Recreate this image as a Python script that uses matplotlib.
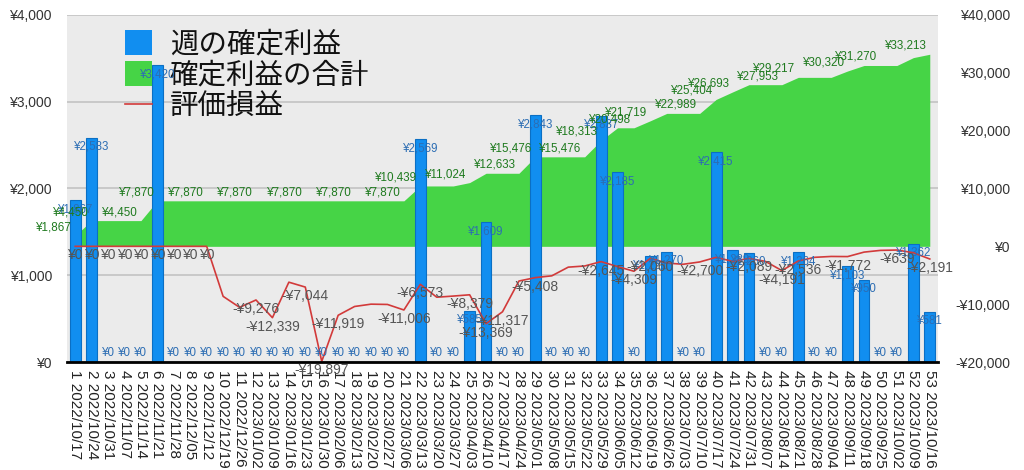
import matplotlib
matplotlib.use("Agg")
import matplotlib.pyplot as plt
from matplotlib.patches import Patch
from matplotlib.lines import Line2D

plt.rcParams['font.family'] = ['Liberation Sans', 'Noto Sans CJK JP', 'DejaVu Sans']

weeks = list(range(1, 54))
dates = ["2022/10/17", "2022/10/24", "2022/10/31", "2022/11/07", "2022/11/14", "2022/11/21",
         "2022/11/28", "2022/12/05", "2022/12/12", "2022/12/19", "2022/12/26", "2023/01/02",
         "2023/01/09", "2023/01/16", "2023/01/23", "2023/01/30", "2023/02/06", "2023/02/13",
         "2023/02/20", "2023/02/27", "2023/03/06", "2023/03/13", "2023/03/20", "2023/03/27",
         "2023/04/03", "2023/04/10", "2023/04/17", "2023/04/24", "2023/05/01", "2023/05/08",
         "2023/05/15", "2023/05/22", "2023/05/29", "2023/06/05", "2023/06/12", "2023/06/19",
         "2023/06/26", "2023/07/03", "2023/07/10", "2023/07/17", "2023/07/24", "2023/07/31",
         "2023/08/07", "2023/08/14", "2023/08/21", "2023/08/28", "2023/09/04", "2023/09/11",
         "2023/09/18", "2023/09/25", "2023/10/02", "2023/10/09", "2023/10/16"]

weekly_profit = [1867, 2583, 0, 0, 0, 3420, 0, 0, 0, 0, 0, 0, 0, 0, 0, 0, 0, 0, 0, 0, 0,
                 2569, 0, 0, 585, 1609, 0, 0, 2843, 0, 0, 0, 2837, 2185, 0, 1221, 1270, 0, 0,
                 2415, 1289, 1260, 0, 0, 1264, 0, 0, 1103, 950, 0, 0, 1362, 581]

cumulative = [1867, 4450, 4450, 4450, 4450, 7870, 7870, 7870, 7870, 7870, 7870, 7870, 7870,
              7870, 7870, 7870, 7870, 7870, 7870, 7870, 7870, 10439, 10439, 10439, 11024,
              12633, 12633, 12633, 15476, 15476, 15476, 15476, 18313, 20498, 20498, 21719,
              22989, 22989, 22989, 25404, 26693, 27953, 27953, 27953, 29217, 29217, 29217,
              30320, 31270, 31270, 31270, 32632, 33213]

unrealized = [0, 0, 0, 0, 0, 0, 0, 0, 0, -8650, -10550, -9276, -12339, -6200, -7044, -19897,
              -11919, -10400, -10000, -10050, -11006, -6573, -8800, -8600, -8379, -13369,
              -11317, -6000, -5408, -5100, -3600, -3400, -2645, -3500, -4309, -2060, -2900,
              -3100, -2700, -1900, -2600, -2089, -2600, -4191, -2536, -1900, -1750, -1772,
              -1000, -700, -639, -1100, -2191]

green_label_weeks = [1, 2, 5, 6, 9, 12, 15, 18, 21, 22, 25, 28, 29, 32, 33, 35, 36, 39, 40,
                     41, 44, 45, 48, 50, 53]
red_label_weeks = [1, 2, 3, 4, 5, 6, 7, 8, 9, 12, 13, 15, 16, 17, 21, 22, 25, 26, 27, 29, 33,
                   35, 36, 39, 42, 44, 45, 48, 51, 53]

series_names = ["週の確定利益", "確定利益の合計", "評価損益"]

BAR = '#118ef0'
BAR_EDGE = '#0b6fc4'
GREEN = '#46d446'
RED = '#d23a3a'
BLUE_TXT = '#2c6db3'
GREEN_TXT = '#1f7a1f'
GRAY_TXT = '#555555'


def yen(v):
    return f"-¥{abs(v):,}" if v < 0 else f"¥{v:,}"


fig = plt.figure(figsize=(10.24, 4.70), dpi=100)
rect = [67 / 1024, 108 / 470, 871 / 1024, 347 / 470]
ax = fig.add_axes(rect)
ax.set_facecolor('#ebebeb')
ax2 = ax.twinx()
ax3 = ax.twinx()
ax4 = ax.twinx()

for a in (ax, ax2, ax3, ax4):
    for s in a.spines.values():
        s.set_visible(False)

# left axis
ax.set_xlim(0.5, 53.5)
ax.set_ylim(0, 4000)
ax.set_yticks([0, 1000, 2000, 3000, 4000])
ax.set_yticklabels([yen(v) for v in [0, 1000, 2000, 3000, 4000]], fontsize=10, color='#333333')
ax.tick_params(axis='y', length=0, pad=10.8)
ax.yaxis.grid(True, color='#c6c6c6', lw=1.3)
ax.set_axisbelow(True)
ax.set_xticks(weeks)
ax.set_xticklabels([f"{w} {d}" for w, d in zip(weeks, dates)], rotation=-90,
                   fontsize=11, color='#222222', va='top', ha='center')
ax.tick_params(axis='x', length=0, pad=6)

# right axis: cumulative area
rticks = [-20000, -10000, 0, 10000, 20000, 30000, 40000]
ax2.set_ylim(-20000, 40000)
ax2.set_yticks(rticks)
ax2.set_yticklabels([yen(v) for v in rticks], fontsize=10, color='#333333', ha='right')
ax2.tick_params(axis='y', length=0, pad=51.8)
ax2.fill_between(weeks, 0, cumulative, color=GREEN, lw=0)

# bars
ax3.set_ylim(0, 4000)
ax3.yaxis.set_visible(False)
ax3.bar(weeks, weekly_profit, width=0.66, color=BAR, edgecolor=BAR_EDGE, lw=0.8)

# line
ax4.set_ylim(-20000, 40000)
ax4.yaxis.set_visible(False)
ax4.plot(weeks, unrealized, color=RED, lw=1.2)
ax4.spines['bottom'].set_visible(True)
ax4.spines['bottom'].set_color('black')
ax4.spines['bottom'].set_linewidth(2)

handles = [Patch(facecolor=BAR, edgecolor='none'),
           Patch(facecolor=GREEN, edgecolor='none'),
           Line2D([0], [0], color=RED, lw=1.2)]
leg = ax4.legend(handles, series_names, loc='upper left',
                 bbox_to_anchor=((125 - 67) / 871, (362 - 29) / 347),
                 frameon=False, borderpad=0, borderaxespad=0,
                 prop={'family': ['Noto Sans CJK JP'], 'size': 20.5},
                 handlelength=0.95, handleheight=1.0, handletextpad=0.62,
                 labelspacing=0.05)
leg.set_zorder(2.5)
for t in leg.get_texts():
    t.set_color('#111111')

# data labels (drawn above the legend)
for w, v in zip(weeks, weekly_profit):
    dy = 9 if v == 0 else -9
    ax4.annotate(yen(v), (w, v), xycoords=ax3.transData, xytext=(0, dy),
                 textcoords='offset pixels', ha='center', va='center',
                 fontsize=8.3, color=BLUE_TXT, zorder=4)
for w in green_label_weeks:
    v = cumulative[w - 1]
    ax4.annotate(yen(v), (w, v), xytext=(-3, 8.5), textcoords='offset pixels',
                 ha='right', va='center', fontsize=8.4, color=GREEN_TXT, zorder=4)
for w in red_label_weeks:
    v = unrealized[w - 1]
    ax4.annotate(yen(v), (w, v), xytext=(0, -9), textcoords='offset pixels',
                 ha='center', va='center', fontsize=10, color=GRAY_TXT, zorder=4)

fig.savefig('out.png', dpi=100)
